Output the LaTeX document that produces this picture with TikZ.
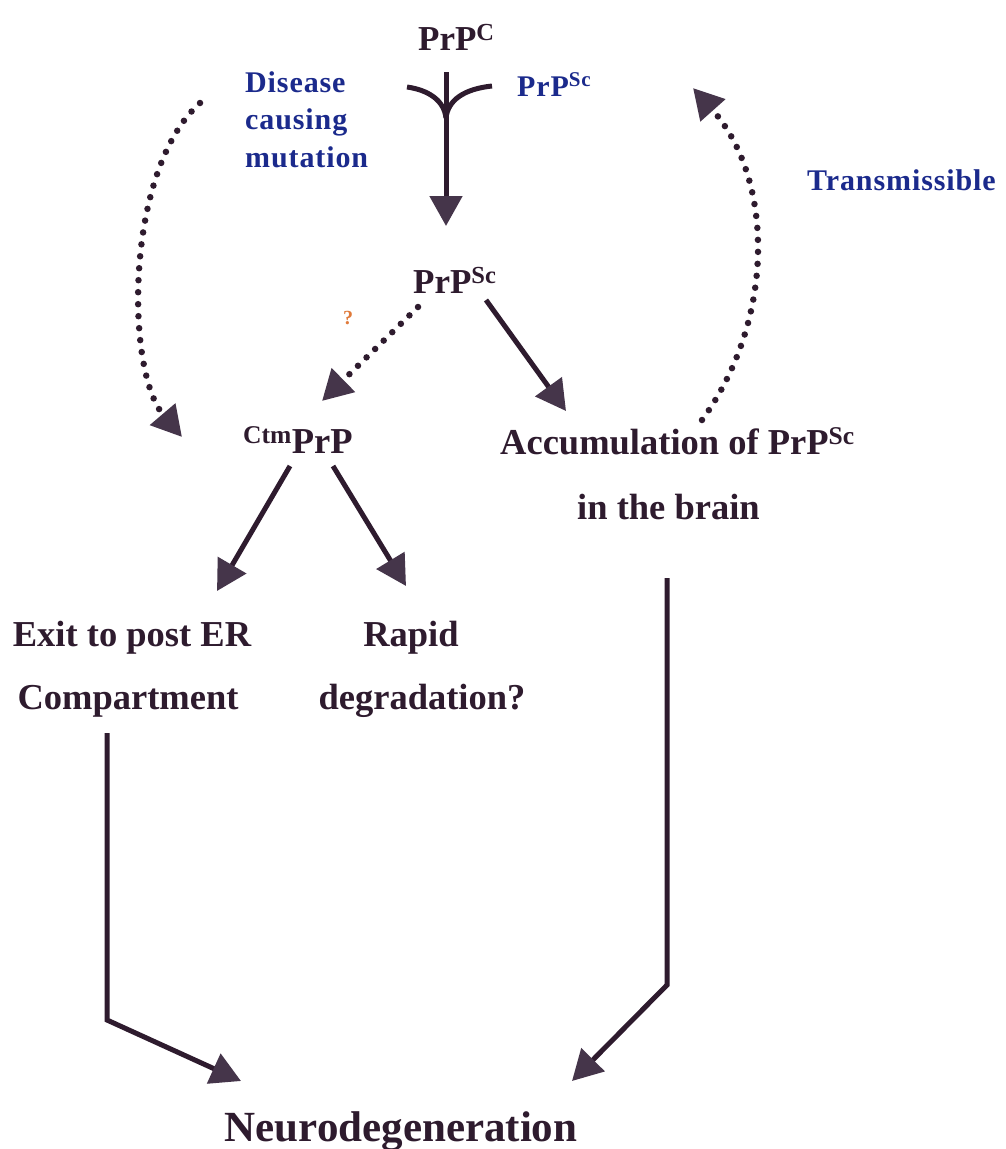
\documentclass[tikz,border=0pt]{standalone}
\usepackage{fontspec}
\setmainfont{Liberation Serif}
\usetikzlibrary{arrows.meta}
\definecolor{ink}{HTML}{2E1B2E}
\definecolor{headc}{HTML}{45354A}
\definecolor{navy}{HTML}{1B2A8C}
\definecolor{qorange}{HTML}{E07A3A}
\begin{document}
\begin{tikzpicture}[x=1pt,y=-1pt,
  main/.style={font=\fontsize{36.5}{40}\selectfont\bfseries, text=ink, inner sep=0pt},
  top/.style={font=\fontsize{35}{40}\selectfont\bfseries, text=ink, inner sep=0pt},
  big/.style={font=\fontsize{43}{48}\selectfont\bfseries, text=ink, inner sep=0pt},
  blue/.style={font=\fontsize{30}{37.5}\selectfont\bfseries\addfontfeatures{LetterSpace=3}, text=navy, inner sep=0pt},
  conn/.style={draw=ink, line width=5pt, -{Triangle[length=30pt,width=32pt,color=headc]}},
  dots/.style={draw=ink, line width=6.5pt, line cap=round, dash pattern=on 0pt off 12pt, -{Triangle[length=30pt,width=32pt,color=headc]}},
  plain/.style={draw=ink, line width=5pt}]
\useasboundingbox[fill=white] (0,0) rectangle (1005,1149);
% texts
\node[top, anchor=base west] (prpc) at (418,50) {PrP\textsuperscript{C}};
\node[blue, anchor=base west] (prpsc1) at (517,96) {PrP\textsuperscript{Sc}};
\node[blue, anchor=north west, align=left] (dcm) at (245,71) {Disease\\causing\\mutation};
\node[blue, anchor=base west] (trans) at (807,190) {Transmissible};
\node[top, anchor=base west] (prpsc2) at (413,293) {PrP\textsuperscript{Sc}};
\node[font=\fontsize{20}{24}\selectfont\bfseries, text=qorange, inner sep=0pt] (q) at (348,318) {?};
\node[main, anchor=base west] (ctm) at (243,453) {\textsuperscript{Ctm}PrP};
\node[main, anchor=base west] (acc) at (500,454) {Accumulation of PrP\textsuperscript{Sc}};
\node[main, anchor=base west] (brain) at (577,519) {in the brain};
\node[main, anchor=base] (exit) at (132,646) {Exit to post ER};
\node[main, anchor=base] (comp) at (128,709) {Compartment};
\node[main, anchor=base] (rapid) at (411,646) {Rapid};
\node[main, anchor=base] (degr) at (422,709) {degradation?};
\node[big, anchor=base] (neuro) at (401,1141) {Neurodegeneration};
% coordinates
\coordinate (f0) at (446,72);
\coordinate (f1) at (446,226);
\coordinate (fl) at (407,87);
\coordinate (fr) at (492,86);
\coordinate (fm) at (446,118);
\coordinate (d1a) at (200,103);
\coordinate (d1b) at (182,437);
\coordinate (d2a) at (702,420);
\coordinate (d2b) at (693,88);
\coordinate (qa) at (418,307);
\coordinate (qb) at (322,401);
\coordinate (sa) at (486,300);
\coordinate (sb) at (566,411);
\coordinate (ca) at (290,466);
\coordinate (cb) at (217,591);
\coordinate (ra) at (333,466);
\coordinate (rb) at (406,586);
\coordinate (la) at (107,733);
\coordinate (lc) at (107,1020);
\coordinate (lb) at (241,1081);
\coordinate (rra) at (667,578);
\coordinate (rrc) at (667,985);
\coordinate (rrb) at (572,1081);
% connectors
\draw[conn] (f0) -- (f1);
\draw[plain] (fl) .. controls (428,90) and (444,100) .. (fm);
\draw[plain] (fr) .. controls (464,89) and (448,100) .. (fm);
\draw[dots] (d1a) .. controls (125,170) and (125,370) .. (d1b);
\draw[dots] (d2a) .. controls (775,320) and (775,180) .. (d2b);
\draw[dots] (qa) -- (qb);
\draw[conn] (sa) -- (sb);
\draw[conn] (ca) -- (cb);
\draw[conn] (ra) -- (rb);
\draw[conn] (la) -- (lc) -- (lb);
\draw[conn] (rra) -- (rrc) -- (rrb);
\end{tikzpicture}
\end{document}
